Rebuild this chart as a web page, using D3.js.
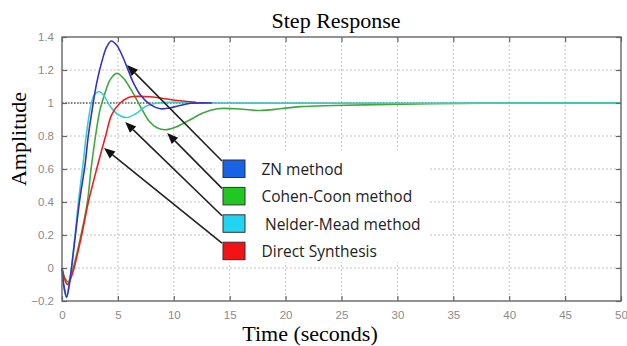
<!DOCTYPE html>
<html>
<head>
<meta charset="utf-8">
<script src="https://cdn.jsdelivr.net/npm/d3@7"></script>
<style>
  body { margin: 0; background: #fff; }
  svg { display: block; }
</style>
</head>
<body>
<div id="chart"></div>
<script>
// series: [time, amplitude]
var znData = [[0, 0], [0.2, -0.12], [0.42, -0.175], [0.65, -0.1], [0.85, 0], [1.2, 0.2], [1.6, 0.42], [2.05, 0.62],
  [2.35, 0.8], [2.7, 0.96], [3.1, 1.12], [3.6, 1.26], [4.0, 1.34], [4.4, 1.376], [4.9, 1.35], [5.3, 1.3],
  [5.8, 1.22], [6.4, 1.12], [7.0, 1.05], [7.9, 0.99], [8.8, 0.965], [9.6, 0.97], [10.3, 0.98], [11.5, 0.998], [13.4, 1.0]]
var cohenData = [[0, 0], [0.25, -0.06], [0.55, -0.085], [0.8, -0.04], [1.0, 0], [1.7, 0.2], [2.27, 0.4], [2.6, 0.6],
  [3.0, 0.8], [3.4, 0.96], [3.8, 1.05], [4.3, 1.14], [4.9, 1.18], [5.5, 1.15], [6.1, 1.09], [7.0, 0.98],
  [7.8, 0.89], [8.5, 0.85], [9.2, 0.838], [10.2, 0.855], [11.5, 0.9], [12.6, 0.94], [13.9, 0.965], [15.5, 0.965],
  [17.7, 0.955], [19.5, 0.965], [21.3, 0.978], [24.3, 0.985], [28, 0.99], [33, 0.995], [40, 1.0], [50, 1.0]]
var nelderData = [[0, 0], [0.2, -0.13], [0.4, -0.18], [0.65, -0.1], [0.85, 0], [1.2, 0.22], [1.5, 0.42], [1.9, 0.64],
  [2.2, 0.82], [2.6, 0.99], [2.9, 1.05], [3.3, 1.07], [3.7, 1.05], [4.3, 0.98], [5.0, 0.93], [5.8, 0.912],
  [6.6, 0.935], [7.5, 0.98], [8.5, 1.0], [10, 1.004], [12, 1.0], [50, 1.0]]
var directData = [[0, 0], [0.25, -0.07], [0.5, -0.1], [0.8, -0.06], [1.08, 0], [1.76, 0.2], [2.36, 0.4], [3.1, 0.6],
  [3.9, 0.8], [4.45, 0.93], [5.2, 1.0], [6.0, 1.035], [6.7, 1.04], [7.8, 1.038], [8.8, 1.03], [10.3, 1.015], [12, 1.005]]

var seriesNames = ['ZN method', 'Cohen-Coon method', 'Nelder-Mead method', 'Direct Synthesis']
var lineColors = ['#3434c0', '#3ea83e', '#3ccccc', '#e82020']
var boxColors = ['#1862e6', '#22c822', '#22d4f2', '#f21414']
// where each arrow points on its curve [time, amplitude]
var arrowTips = [[5.82, 1.23], [9.41, 0.818], [5.65, 0.885], [3.76, 0.727]]

var xTicks = [0, 5, 10, 15, 20, 25, 30, 35, 40, 45, 50]
var yTicks = [-0.2, 0, 0.2, 0.4, 0.6, 0.8, 1, 1.2, 1.4]

var width = 627
var height = 346
var margin = { top: 37, left: 62, right: 6, bottom: 45 }

var svg = d3.select('#chart')
  .append('svg')
  .attr('width', width)
  .attr('height', height)

var x = d3.scaleLinear().domain([0, 50]).range([margin.left, width - margin.right])
var y = d3.scaleLinear().domain([-0.2, 1.4]).range([height - margin.bottom, margin.top])

// grid
svg.append('g')
  .selectAll('line')
  .data(xTicks.slice(1, -1))
  .enter()
  .append('line')
  .attr('x1', d => x(d))
  .attr('x2', d => x(d))
  .attr('y1', y(1.4))
  .attr('y2', y(-0.2))
  .attr('stroke', '#b4b4b4')
  .attr('stroke-width', 0.8)
  .attr('stroke-dasharray', '2,2')

svg.append('g')
  .selectAll('line')
  .data(yTicks.slice(1, -1))
  .enter()
  .append('line')
  .attr('x1', x(0))
  .attr('x2', x(50))
  .attr('y1', d => y(d))
  .attr('y2', d => y(d))
  .attr('stroke', '#b4b4b4')
  .attr('stroke-width', 0.8)
  .attr('stroke-dasharray', '2,2')

// white patch behind the legend
var legX = 223
var legY = 160
var rowGap = 27.4

svg.append('rect')
  .attr('x', legX - 8)
  .attr('y', legY - 10)
  .attr('width', 213)
  .attr('height', 112)
  .attr('fill', '#fff')

// steady state reference
svg.append('line')
  .attr('x1', x(0))
  .attr('x2', x(50))
  .attr('y1', y(1))
  .attr('y2', y(1))
  .attr('stroke', '#222')
  .attr('stroke-width', 1.2)
  .attr('stroke-dasharray', '1.5,1.5')

var line = d3.line()
  .x(d => x(d[0]))
  .y(d => y(d[1]))
  .curve(d3.curveCatmullRom)

var allSeries = [cohenData, nelderData, directData, znData]
var order = [1, 2, 3, 0]

svg.append('g')
  .selectAll('path')
  .data(allSeries)
  .enter()
  .append('path')
  .attr('d', d => line(d))
  .attr('fill', 'none')
  .attr('stroke', (d, i) => lineColors[order[i]])
  .attr('stroke-width', 1.6)

// frame and inward ticks
svg.append('rect')
  .attr('x', x(0))
  .attr('y', y(1.4))
  .attr('width', x(50) - x(0))
  .attr('height', y(-0.2) - y(1.4))
  .attr('fill', 'none')
  .attr('stroke', '#666')
  .attr('stroke-width', 1.4)

var xAxis = d3.axisBottom(x).tickValues(xTicks).tickSizeInner(-5).tickSizeOuter(0).tickPadding(10)
var yAxis = d3.axisLeft(y).tickValues(yTicks).tickSizeInner(-5).tickSizeOuter(0).tickPadding(8)
  .tickFormat(d => d3.format('~g')(d))

var gx = svg.append('g').attr('transform', `translate(0,${y(-0.2)})`).call(xAxis)
var gy = svg.append('g').attr('transform', `translate(${x(0)},0)`).call(yAxis)
svg.append('g').attr('transform', `translate(0,${y(1.4)})`)
  .call(d3.axisTop(x).tickValues(xTicks).tickSizeInner(-5).tickSizeOuter(0).tickFormat(''))
svg.append('g').attr('transform', `translate(${x(50)},0)`)
  .call(d3.axisRight(y).tickValues(yTicks).tickSizeInner(-5).tickSizeOuter(0).tickFormat(''))

svg.selectAll('.domain').remove()
svg.selectAll('.tick line').attr('stroke', '#666').attr('stroke-width', 1.2)
svg.selectAll('.tick text')
  .attr('fill', '#8a8a8a')
  .style('font-family', 'Liberation Sans, Arial, sans-serif')
  .style('font-size', '11.5px')

// legend
var legend = svg.append('g')
seriesNames.forEach(function(name, i) {
  var by = legY + i * rowGap
  var tip = arrowTips[i]
  var tx = x(tip[0])
  var ty = y(tip[1])
  var sx = legX - 1
  var sy = by + 1
  var ang = Math.atan2(ty - sy, tx - sx)
  var len = 11
  var hw = 4.5
  var bx = tx - len * Math.cos(ang)
  var byy = ty - len * Math.sin(ang)

  legend.append('line')
    .attr('x1', sx)
    .attr('y1', sy)
    .attr('x2', bx)
    .attr('y2', byy)
    .attr('stroke', '#222')
    .attr('stroke-width', 1.6)

  legend.append('path')
    .attr('d', 'M' + tx + ',' + ty +
      'L' + (bx + hw * Math.sin(ang)) + ',' + (byy - hw * Math.cos(ang)) +
      'L' + (bx - hw * Math.sin(ang)) + ',' + (byy + hw * Math.cos(ang)) + 'Z')
    .attr('fill', '#111')

  legend.append('rect')
    .attr('x', legX)
    .attr('y', by)
    .attr('width', 22)
    .attr('height', 17.5)
    .attr('fill', boxColors[i])
    .attr('stroke', '#333')
    .attr('stroke-width', 1)

  legend.append('text')
    .attr('x', i === 2 ? 265 : 261.5)
    .attr('y', by + 15)
    .text(name)
    .attr('fill', '#222')
    .style('font-family', 'Open Sans, sans-serif')
    .style('font-size', '15.5px')
})

// titles
svg.append('text')
  .attr('x', 336)
  .attr('y', 28)
  .attr('text-anchor', 'middle')
  .text('Step Response')
  .style('font-family', 'Liberation Serif, Times New Roman, serif')
  .style('font-size', '22px')

svg.append('text')
  .attr('x', 310)
  .attr('y', 341)
  .attr('text-anchor', 'middle')
  .text('Time (seconds)')
  .style('font-family', 'Liberation Serif, Times New Roman, serif')
  .style('font-size', '22px')

svg.append('text')
  .attr('transform', 'translate(26,139) rotate(-90)')
  .attr('text-anchor', 'middle')
  .text('Amplitude')
  .style('font-family', 'Liberation Serif, Times New Roman, serif')
  .style('font-size', '22px')
</script>
</body>
</html>
